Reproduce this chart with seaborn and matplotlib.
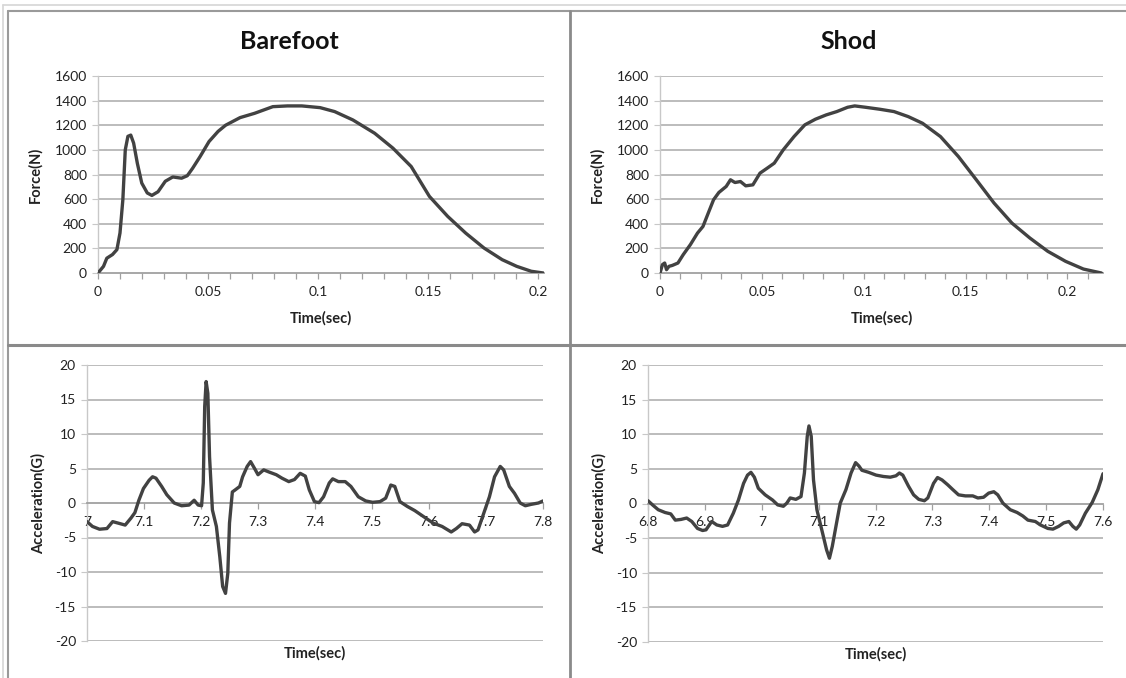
import numpy as np
import pandas as pd
import matplotlib
matplotlib.use("Agg")
import matplotlib.pyplot as plt
from matplotlib.lines import Line2D
from matplotlib.ticker import MultipleLocator, FuncFormatter
import seaborn as sns

# ---------------- data ----------------
barefoot_time = [0.0, 0.0025, 0.004, 0.0066, 0.0086, 0.010, 0.0113, 0.0124, 0.0136, 0.0149,
                 0.0162, 0.0179, 0.0199, 0.0224, 0.0245, 0.0273, 0.0306, 0.034, 0.038, 0.0406,
                 0.043, 0.0464, 0.0505, 0.0546, 0.058, 0.0646, 0.0712, 0.0795, 0.0861, 0.0927,
                 0.101, 0.1076, 0.1159, 0.1258, 0.1341, 0.1424, 0.1507, 0.159, 0.1672, 0.1755,
                 0.1838, 0.1904, 0.197, 0.2025]
barefoot_force = [0, 54, 120, 150, 190, 325, 595, 1000, 1110, 1120,
                  1055, 890, 730, 650, 630, 660, 745, 780, 770, 790,
                  850, 945, 1068, 1150, 1200, 1262, 1297, 1351, 1357, 1357,
                  1343, 1311, 1243, 1135, 1014, 865, 622, 460, 324, 203,
                  108, 54, 14, 0]

shod_time = [0.0, 0.0012, 0.0023, 0.0032, 0.0044, 0.0061, 0.0088, 0.0114, 0.0149, 0.0184,
             0.0211, 0.0237, 0.0263, 0.0289, 0.0325, 0.0346, 0.0368, 0.0395, 0.0421, 0.0456,
             0.0491, 0.0526, 0.0561, 0.0605, 0.0658, 0.0711, 0.0763, 0.0816, 0.0868, 0.0921,
             0.0956, 0.1009, 0.1079, 0.1149, 0.1219, 0.1289, 0.1377, 0.1465, 0.1553, 0.164,
             0.1728, 0.1816, 0.1904, 0.1991, 0.2079, 0.2167]
shod_force = [0, 68, 81, 27, 54, 62, 81, 149, 230, 324,
              378, 487, 595, 654, 703, 757, 735, 743, 708, 716,
              811, 851, 892, 1000, 1108, 1203, 1249, 1284, 1311, 1346,
              1357, 1346, 1330, 1311, 1270, 1216, 1108, 946, 757, 568,
              405, 284, 176, 95, 32, 0]

barefoot_acc_time = [7.0, 7.0096, 7.022, 7.035, 7.045, 7.054, 7.067, 7.077, 7.084, 7.091,
                     7.099, 7.109, 7.115, 7.121, 7.131, 7.140, 7.153, 7.166, 7.179, 7.188,
                     7.195, 7.201, 7.204, 7.2065, 7.209, 7.212, 7.215, 7.220, 7.227, 7.233,
                     7.238, 7.243, 7.247, 7.250, 7.255, 7.260, 7.268, 7.273, 7.281, 7.287,
                     7.294, 7.300, 7.310, 7.319, 7.332, 7.342, 7.354, 7.364, 7.374, 7.383,
                     7.390, 7.399, 7.407, 7.415, 7.425, 7.431, 7.441, 7.453, 7.463, 7.476,
                     7.489, 7.501, 7.514, 7.524, 7.533, 7.540, 7.549, 7.562, 7.575, 7.591,
                     7.607, 7.623, 7.639, 7.648, 7.658, 7.671, 7.680, 7.686, 7.696, 7.706,
                     7.715, 7.725, 7.731, 7.741, 7.750, 7.760, 7.769, 7.779, 7.792, 7.800]
barefoot_acc = [-2.7, -3.4, -3.8, -3.7, -2.7, -2.9, -3.2, -2.2, -1.4, 0.4,
                2.1, 3.3, 3.8, 3.6, 2.4, 1.2, 0.0, -0.4, -0.3, 0.4,
                -0.3, -0.4, 2.9, 14.0, 17.6, 15.9, 6.7, -1.0, -3.4, -7.8,
                -12.1, -13.1, -10.2, -2.9, 1.6, 1.9, 2.4, 3.8, 5.3, 6.0,
                5.0, 4.1, 4.8, 4.5, 4.1, 3.6, 3.1, 3.4, 4.3, 3.9,
                1.9, 0.2, 0.05, 0.9, 2.9, 3.5, 3.1, 3.1, 2.4, 0.9,
                0.3, 0.1, 0.2, 0.7, 2.6, 2.4, 0.2, -0.5, -1.1, -2.0,
                -2.9, -3.4, -4.2, -3.7, -3.0, -3.2, -4.2, -3.9, -1.5, 0.9,
                3.8, 5.3, 4.8, 2.4, 1.4, 0.0, -0.4, -0.2, 0.0, 0.3]

shod_acc_time = [6.800, 6.808, 6.818, 6.830, 6.840, 6.848, 6.858, 6.868, 6.877, 6.887,
                 6.896, 6.902, 6.912, 6.921, 6.931, 6.940, 6.950, 6.959, 6.968, 6.975,
                 6.981, 6.987, 6.994, 7.006, 7.019, 7.028, 7.038, 7.044, 7.050, 7.060,
                 7.069, 7.075, 7.080, 7.083, 7.087, 7.091, 7.097, 7.107, 7.114, 7.119,
                 7.124, 7.132, 7.138, 7.148, 7.157, 7.165, 7.171, 7.176, 7.188, 7.201,
                 7.214, 7.226, 7.236, 7.242, 7.248, 7.258, 7.267, 7.276, 7.286, 7.292,
                 7.302, 7.309, 7.317, 7.327, 7.336, 7.346, 7.358, 7.371, 7.380, 7.390,
                 7.399, 7.408, 7.415, 7.424, 7.437, 7.449, 7.459, 7.468, 7.481, 7.490,
                 7.503, 7.512, 7.522, 7.531, 7.540, 7.547, 7.553, 7.559, 7.569, 7.581,
                 7.591, 7.600]
shod_acc = [0.4, -0.2, -0.9, -1.3, -1.5, -2.4, -2.3, -2.1, -2.6, -3.6,
            -3.9, -3.8, -2.6, -3.1, -3.3, -3.1, -1.4, 0.5, 2.9, 4.1,
            4.5, 3.8, 2.2, 1.25, 0.5, -0.2, -0.4, 0.05, 0.8, 0.6,
            1.0, 4.4, 9.7, 11.2, 9.7, 3.4, -0.9, -4.3, -6.7, -7.9,
            -6.2, -2.6, 0.05, 2.0, 4.4, 5.9, 5.4, 4.8, 4.5, 4.1,
            3.9, 3.8, 4.0, 4.4, 4.1, 2.5, 1.25, 0.6, 0.4, 0.8,
            2.9, 3.75, 3.4, 2.7, 2.0, 1.25, 1.1, 1.1, 0.8, 0.9,
            1.5, 1.7, 1.25, 0.05, -0.9, -1.3, -1.8, -2.4, -2.6, -3.1,
            -3.6, -3.7, -3.3, -2.8, -2.6, -3.3, -3.7, -3.1, -1.4, 0.15,
            2.0, 4.3]

titles = ["Barefoot", "Shod"]
force_label = "Force(N)"
acc_label = "Acceleration(G)"
time_label = "Time(sec)"

# ---------------- styling ----------------
sns.set_theme(style="white")
plt.rcParams["font.family"] = ["Lato", "DejaVu Sans"]

W, H = 1126, 678
fig = plt.figure(figsize=(W / 100, H / 100), dpi=100)
fig.patch.set_facecolor("white")

LINE_C = "#424242"
GRID_C = "#b0b0b0"
AXIS_C = "#a0a0a0"
TXT_C = "#222222"


def ax_rect(x0, y0, x1, y1):
    return [x0 / W, 1 - y1 / H, (x1 - x0) / W, (y1 - y0) / H]


def fmt(v, pos):
    return f"{v:g}"


def style_axes(ax, ylim, ystep, ylabel, ylabel_x, xlabel_y, zero_axis):
    ax.set_facecolor("white")
    ax.set_ylim(*ylim)
    ax.yaxis.set_major_locator(MultipleLocator(ystep))
    ax.grid(False)
    for yv in np.arange(ylim[0], ylim[1] + ystep / 2, ystep):
        if zero_axis and abs(yv) < 1e-9:
            continue
        if not zero_axis and abs(yv - ylim[0]) < 1e-9:
            continue
        ax.axhline(yv, color=GRID_C, lw=1.2, zorder=0)
    for s in ["top", "right"]:
        ax.spines[s].set_visible(False)
    ax.spines["left"].set_color("#c8c8c8")
    ax.spines["left"].set_linewidth(1.0)
    ax.spines["bottom"].set_color(AXIS_C)
    ax.spines["bottom"].set_linewidth(1.3)
    if zero_axis:
        ax.spines["bottom"].set_position(("data", 0))
    ax.tick_params(axis="y", which="both", left=True, length=4, width=0.8,
                   color="#c8c8c8", labelsize=10, labelcolor=TXT_C, pad=4)
    ax.tick_params(axis="x", which="both", bottom=True, length=4, width=0.9,
                   color=AXIS_C, labelsize=10, labelcolor=TXT_C, pad=5,
                   direction="out")
    ax.xaxis.set_major_formatter(FuncFormatter(fmt))
    ax.yaxis.set_major_formatter(FuncFormatter(fmt))
    ax.set_ylabel(ylabel, fontsize=10.5, fontweight="bold", color=TXT_C)
    ax.yaxis.set_label_coords(ylabel_x, 0.5)
    ax.set_xlabel(time_label, fontsize=10.5, fontweight="bold", color=TXT_C)
    ax.xaxis.set_label_coords(0.5, xlabel_y)


# ---------------- top left: barefoot force ----------------
ax1 = fig.add_axes(ax_rect(98, 76, 544, 273))
sns.lineplot(x=barefoot_time, y=barefoot_force, ax=ax1, color=LINE_C, lw=2.4, zorder=3)
ax1.set_xlim(0, 0.2028)
ax1.xaxis.set_major_locator(MultipleLocator(0.05))
ax1.xaxis.set_minor_locator(MultipleLocator(0.01))
style_axes(ax1, (0, 1600), 200, force_label, -0.125, -0.195, False)
ax1.text(0.428, 1.173, titles[0], transform=ax1.transAxes, ha="center", va="center",
         fontsize=18, fontweight="bold", color="#111111")

# ---------------- top right: shod force ----------------
ax2 = fig.add_axes(ax_rect(660, 76, 1103, 273))
sns.lineplot(x=shod_time, y=shod_force, ax=ax2, color=LINE_C, lw=2.4, zorder=3)
ax2.set_xlim(0, 0.2175)
ax2.xaxis.set_major_locator(MultipleLocator(0.05))
ax2.xaxis.set_minor_locator(MultipleLocator(0.01))
style_axes(ax2, (0, 1600), 200, force_label, -0.126, -0.195, False)
ax2.text(0.427, 1.173, titles[1], transform=ax2.transAxes, ha="center", va="center",
         fontsize=18, fontweight="bold", color="#111111")

# ---------------- bottom left: barefoot acceleration ----------------
ax3 = fig.add_axes(ax_rect(87, 365, 543, 641))
sns.lineplot(x=barefoot_acc_time, y=barefoot_acc, ax=ax3, color=LINE_C, lw=2.4, zorder=3)
ax3.set_xlim(7.0, 7.8)
ax3.xaxis.set_major_locator(MultipleLocator(0.1))
style_axes(ax3, (-20, 20), 5, acc_label, -0.09, -0.02, True)

# ---------------- bottom right: shod acceleration ----------------
ax4 = fig.add_axes(ax_rect(648, 365, 1103, 642))
sns.lineplot(x=shod_acc_time, y=shod_acc, ax=ax4, color=LINE_C, lw=2.4, zorder=3)
ax4.set_xlim(6.8, 7.6)
ax4.xaxis.set_major_locator(MultipleLocator(0.1))
style_axes(ax4, (-20, 20), 5, acc_label, -0.09, -0.02, True)

for ax in (ax1, ax2, ax3, ax4):
    ax.set_zorder(1)

# ---------------- panel frames ----------------
def fline(x0, y0, x1, y1, color, lw):
    fig.add_artist(Line2D([x0 / W, x1 / W], [1 - y0 / H, 1 - y1 / H],
                          color=color, lw=lw, transform=fig.transFigure, zorder=0))

fline(3, 5, W, 5, "#d6d6d6", 1.2)
fline(3, 5, 3, H, "#d6d6d6", 1.2)
fline(8, 11, W, 11, "#9a9a9a", 1.5)
fline(8, 11, 8, H, "#9a9a9a", 1.5)
fline(570, 11, 570, H, "#8a8a8a", 2.0)
fline(8, 345, W, 345, "#8a8a8a", 2.2)

fig.savefig("out.png", dpi=100, facecolor="white")
